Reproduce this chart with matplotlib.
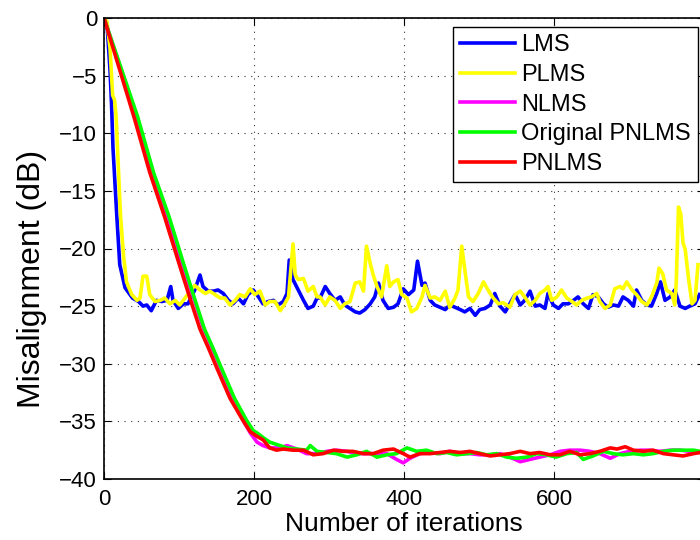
import matplotlib
matplotlib.use("Agg")
import matplotlib.pyplot as plt

plt.rcParams['font.family'] = ['Liberation Sans', 'DejaVu Sans']

# ---------------- data ----------------
lms_x = [0, 4, 8, 10, 12, 17, 21, 28, 38, 46, 52, 57, 63, 70, 77, 84, 89, 92, 99, 106, 112, 121, 128, 132, 139, 146,
         152, 159, 166, 172, 179, 186, 192, 199, 206, 212, 219, 226, 232, 239, 244, 247, 252, 259, 266, 272, 279,
         284, 288, 295, 301, 308, 315, 321, 328, 335, 341, 348, 355, 361, 366, 372, 379, 386, 392, 399, 406, 413,
         418, 424, 428, 435, 441, 448, 455, 461, 468, 475, 481, 488, 495, 501, 508, 515, 521, 528, 535, 541, 548,
         555, 561, 568, 575, 581, 588, 592, 599, 606, 612, 619, 626, 632, 639, 646, 652, 659, 666, 672, 679, 686,
         692, 699, 706, 710, 717, 724, 730, 737, 742, 748, 755, 761, 768, 775, 781, 788, 794]
lms_y = [0, -0.5, -4.5, -7.4, -11.3, -17.1, -21.4, -23.4, -24.3, -24.6, -25.0, -24.9, -25.4, -24.5, -24.6, -24.5,
         -23.3, -24.5, -25.2, -24.8, -24.8, -23.6, -22.3, -23.3, -23.7, -23.7, -23.6, -23.9, -24.5, -24.8, -24.3,
         -24.8, -24.0, -23.6, -24.2, -24.8, -24.6, -24.5, -24.9, -24.6, -23.9, -21.0, -22.7, -23.6, -24.5, -25.2,
         -25.0, -24.3, -24.3, -23.3, -23.9, -24.5, -24.2, -24.9, -25.2, -25.5, -25.6, -25.3, -24.8, -24.2, -23.0,
         -24.5, -25.2, -25.1, -24.8, -23.5, -24.0, -23.6, -21.1, -23.2, -23.0, -24.5, -24.9, -25.1, -25.3, -24.9,
         -25.1, -25.3, -25.5, -25.2, -25.8, -25.3, -25.2, -24.9, -23.9, -25.0, -25.5, -24.8, -24.0, -24.9, -24.5,
         -23.7, -25.0, -24.9, -25.2, -23.9, -24.9, -25.2, -24.8, -24.8, -24.5, -24.2, -24.8, -25.2, -24.0, -24.2,
         -24.8, -25.1, -24.9, -25.0, -24.2, -24.5, -25.0, -23.6, -24.5, -24.9, -25.0, -23.9, -22.9, -24.5, -24.2,
         -23.6, -25.0, -25.2, -25.0, -24.8, -24.0]

plms_x = [0, 4, 8, 10, 11.5, 14, 16, 19, 22, 26, 30, 37, 44, 48, 52, 57, 61, 68, 75, 81, 88, 95, 101, 108, 115, 121,
          128, 135, 141, 148, 155, 161, 168, 175, 181, 188, 195, 201, 208, 215, 221, 228, 235, 241, 246, 252, 255,
          259, 266, 272, 279, 284, 288, 295, 301, 308, 315, 321, 328, 335, 341, 346, 350, 355, 359, 364, 370, 377,
          381, 386, 392, 397, 404, 410, 417, 424, 428, 435, 441, 448, 455, 461, 468, 472, 477, 481, 486, 492, 499,
          506, 512, 519, 526, 532, 537, 541, 548, 555, 561, 568, 575, 581, 588, 592, 597, 604, 610, 617, 624, 630,
          637, 644, 650, 657, 661, 668, 675, 681, 688, 692, 697, 704, 710, 717, 724, 730, 737, 740, 745, 750, 757,
          761, 763, 766, 769, 772, 775, 779, 784, 788, 792]
plms_y = [0, -0.3, -2.6, -4.9, -6.7, -7.1, -8.4, -12.8, -17.1, -20.6, -22.9, -24.0, -24.5, -24.3, -22.4, -22.4,
          -24.0, -24.6, -24.5, -24.3, -24.8, -24.5, -24.9, -24.3, -23.7, -23.2, -23.6, -23.9, -23.7, -24.0, -24.3,
          -24.3, -24.9, -24.5, -24.0, -24.2, -23.5, -24.0, -23.7, -24.9, -24.6, -24.6, -25.4, -24.8, -24.2, -19.6,
          -22.3, -22.7, -22.6, -23.7, -23.3, -24.2, -24.2, -24.9, -24.2, -24.5, -25.2, -24.8, -24.6, -23.0, -22.9,
          -23.7, -19.8, -21.3, -22.3, -23.3, -24.2, -21.5, -23.3, -22.9, -22.7, -24.0, -24.3, -25.5, -25.2, -24.2,
          -23.2, -24.3, -24.2, -24.5, -23.7, -25.1, -24.3, -23.6, -19.8, -21.8, -24.2, -24.6, -23.9, -22.9, -23.6,
          -24.3, -24.8, -24.7, -24.9, -25.1, -24.0, -23.7, -24.2, -24.9, -24.5, -23.9, -23.6, -23.3, -24.5, -24.2,
          -23.6, -24.3, -24.6, -24.9, -24.5, -24.3, -24.2, -23.9, -24.6, -25.2, -24.9, -23.5, -23.3, -23.5, -22.9,
          -23.6, -24.0, -24.6, -24.9, -24.2, -23.0, -21.7, -22.2, -23.6, -23.9, -24.9, -23.0, -16.4, -17.0, -19.5,
          -20.1, -22.4, -24.8, -24.5, -21.4]

nlms_x = [0, 44, 65, 85, 104, 120, 133, 144, 155, 172, 188, 195, 204, 212, 221, 235, 244, 257, 270, 284, 297, 310,
          324, 337, 350, 364, 377, 390, 399, 408, 421, 435, 448, 461, 475, 488, 501, 515, 528, 541, 555, 568, 581,
          595, 608, 621, 635, 648, 661, 675, 688, 701, 715, 728, 741, 755, 768, 781, 795]
nlms_y = [0, -8.6, -13.4, -17.3, -21.3, -24.4, -27.0, -28.6, -30.3, -33.0, -35.2, -36.0, -36.8, -37.1, -37.3, -37.3,
          -37.1, -37.4, -37.8, -37.8, -37.6, -37.5, -37.6, -37.8, -37.8, -37.8, -37.8, -38.3, -38.6, -38.2, -37.8,
          -37.7, -37.8, -37.6, -37.8, -37.8, -37.9, -37.9, -37.8, -38.1, -38.5, -38.3, -38.1, -37.9, -37.6, -37.5,
          -37.5, -37.6, -37.8, -38.2, -37.8, -37.6, -37.5, -37.5, -37.6, -37.5, -37.5, -37.6, -37.7]

opnlms_x = [0, 45, 66, 87, 106, 121, 134, 145, 156, 174, 190, 199, 204, 212, 221, 230, 244, 257, 270, 275, 284, 297,
            310, 324, 337, 350, 364, 377, 390, 404, 417, 430, 444, 457, 470, 484, 497, 510, 524, 537, 550, 564, 577,
            590, 603, 617, 630, 639, 652, 666, 679, 692, 706, 719, 732, 746, 759, 772, 786, 795]
opnlms_y = [0, -8.6, -13.4, -17.3, -21.3, -24.4, -27.0, -28.6, -30.3, -33.0, -34.9, -35.8, -36.0, -36.4, -36.8,
            -37.0, -37.3, -37.4, -37.5, -37.1, -37.6, -37.7, -37.8, -38.1, -37.9, -37.6, -38.1, -37.9, -37.8, -37.3,
            -37.6, -37.5, -37.8, -37.7, -37.9, -37.8, -37.7, -37.9, -37.8, -38.1, -38.2, -38.1, -37.8, -37.9, -38.1,
            -37.8, -37.7, -38.3, -38.0, -37.6, -37.8, -37.9, -37.8, -37.9, -37.8, -37.6, -37.5, -37.5, -37.5, -37.6]

pnlms_x = [0, 40, 61, 81, 100, 115, 128, 139, 150, 168, 185, 195, 204, 212, 221, 230, 239, 252, 266, 279, 292, 306,
           319, 332, 346, 359, 372, 386, 399, 408, 421, 435, 448, 461, 475, 488, 501, 515, 528, 541, 555, 568, 581,
           595, 608, 621, 635, 648, 661, 675, 684, 695, 706, 719, 732, 746, 759, 772, 786, 795]
pnlms_y = [0, -8.6, -13.4, -17.3, -21.3, -24.4, -27.0, -28.6, -30.3, -33.0, -34.9, -35.9, -36.3, -36.6, -37.3,
           -37.5, -37.4, -37.5, -37.5, -37.9, -37.8, -37.5, -37.6, -37.6, -37.8, -37.8, -37.5, -37.4, -37.8, -38.1,
           -37.8, -37.8, -37.7, -37.6, -37.7, -37.6, -37.8, -38.0, -37.9, -37.8, -37.6, -37.8, -37.7, -37.9, -37.9,
           -37.6, -37.9, -37.8, -37.6, -37.3, -37.4, -37.2, -37.5, -37.6, -37.5, -37.8, -37.9, -38.0, -37.8, -37.7]

series_labels = ['LMS', 'PLMS', 'NLMS', 'Original PNLMS', 'PNLMS']
series_colors = ['#0000ff', '#ffff00', '#ff00ff', '#00ff00', '#ff0000']
x_ticks = [0, 200, 400, 600]
y_ticks = [0, -5, -10, -15, -20, -25, -30, -35, -40]

# ---------------- figure ----------------
fig = plt.figure(figsize=(7.0, 5.4), dpi=100)
ax = fig.add_axes([104 / 700, 1 - 479 / 540, 600 / 700, 461 / 540])

series = [(lms_x, lms_y), (plms_x, plms_y), (nlms_x, nlms_y), (opnlms_x, opnlms_y), (pnlms_x, pnlms_y)]
for (xs, ys), lab, col in zip(series, series_labels, series_colors):
    ax.plot(xs, ys, color=col, lw=2.6, label=lab, solid_joinstyle='round')

ax.set_xlim(0, 800)
ax.set_ylim(-40, 0)
ax.set_xticks(x_ticks)
ax.set_yticks(y_ticks)
ax.set_yticklabels(['0' if v == 0 else '\u2212%d' % abs(v) for v in y_ticks])
ax.tick_params(direction='in', length=5, width=0.8, top=True, right=True, labelsize=16, colors='black')
ax.tick_params(axis='x', pad=7)
ax.tick_params(axis='y', pad=5)
ax.grid(True, color='#333333', linestyle=(0, (1, 5)), linewidth=0.8)
for sp in ax.spines.values():
    sp.set_linewidth(1.2)

ax.set_xlabel('Number of iterations', fontsize=19)
ax.xaxis.set_label_coords(0.5, -0.071)
ax.set_ylabel('Misalignment (dB)', fontsize=23)
ax.yaxis.set_label_coords(-0.095, 0.434)

leg = ax.legend(loc='upper right', bbox_to_anchor=(698 / 700, 1 - 27 / 540),
                bbox_transform=fig.transFigure, borderaxespad=0,
                fontsize=17, frameon=True, fancybox=False, framealpha=1,
                edgecolor='black', handlelength=2.33, handletextpad=0.25, labelspacing=0.33,
                borderpad=0.3)
leg.get_frame().set_linewidth(1.0)

fig.savefig('out.png', dpi=100)
